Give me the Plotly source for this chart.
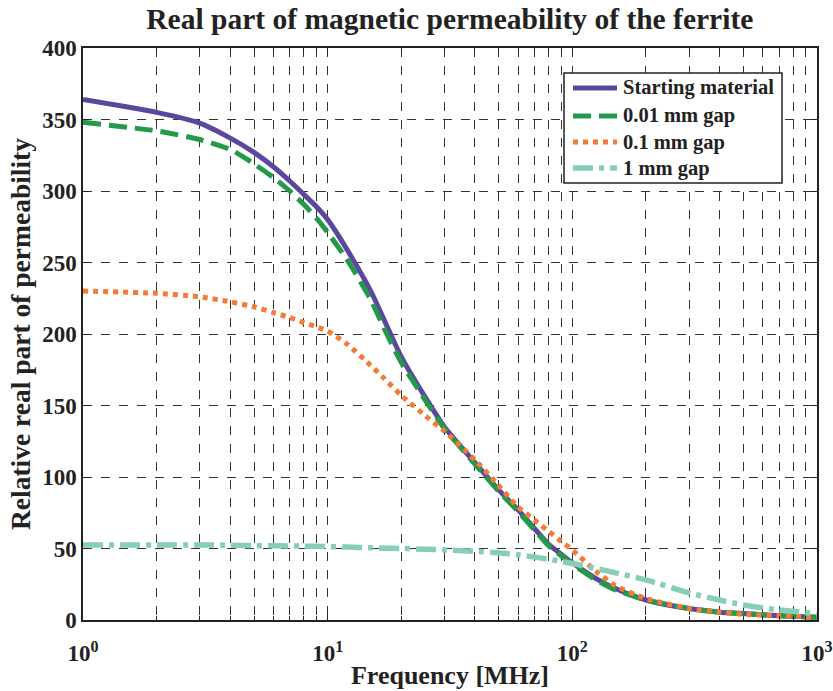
import plotly.graph_objects as go

freq = [1, 2, 3, 4, 5, 6, 7, 8, 9, 10, 12, 15, 17, 20, 25, 30, 40, 50, 60, 70, 80, 90, 100,
        125, 150, 200, 300, 400, 500, 700, 1000]
starting = [364, 355, 347.5, 337, 327, 317, 307, 297.5, 289, 280, 259, 230, 210, 184, 156, 135, 110, 91, 77, 64, 53, 46, 40,
            29, 22, 14, 8, 5.5, 4.5, 3, 2]
gap_001 = [348, 342, 336, 329, 319, 309.5, 300, 290.5, 281, 271, 252, 224, 204, 180, 154, 134, 109, 90, 76, 63, 52, 45, 39,
           28, 21, 14, 8, 5.5, 4.5, 3, 2]
gap_01 = [230, 228.5, 226, 222.5, 219, 215, 211.5, 208, 205, 202, 193, 178, 169, 157, 143, 132, 112, 94, 79, 70, 62, 55, 49,
          34, 24, 15, 8, 5.5, 4, 3, 2]
gap_1 = [52.5, 52.5, 52.5, 52.3, 52, 52, 51.8, 51.6, 51.5, 51.3, 51, 50.5, 50.2, 50, 49.5, 49, 48, 47, 45.5, 44, 42.5, 41, 39.5,
         36, 33, 28, 19, 14, 10.5, 7, 4.5]

names = ["Starting material", "0.01 mm gap", "0.1 mm gap", "1 mm gap"]
colors = ["#5b47a0", "#23994a", "#f47a36", "#85d0b4"]
x_tickvals = [1, 10, 100, 1000]
x_ticktext = ["10<sup>0</sup>", "10<sup>1</sup>", "10<sup>2</sup>", "10<sup>3</sup>"]
y_tickvals = [0, 50, 100, 150, 200, 250, 300, 350, 400]

font = "Liberation Serif"
W, H = 833, 691
ML, MR, MT, MB = 83, 16, 48, 71
PW, PH = W - ML - MR, H - MT - MB


def px_x(px):
    return (px - ML) / PW


def px_y(py):
    return (H - MB - py) / PH


fig = go.Figure()
series = [starting, gap_001, gap_01, gap_1]
dashes = ["solid", "18px,8px", "5px,5px", "20px,6px,5px,6px"]
widths = [5, 5, 5, 5.5]
for name, ys, c, d, w in zip(names, series, colors, dashes, widths):
    fig.add_trace(go.Scatter(x=freq, y=ys, name=name, mode="lines", showlegend=False,
                             line=dict(color=c, width=w, dash=d, shape="spline", smoothing=0.6)))

axis_common = dict(showline=True, linecolor="#222", linewidth=1.5, mirror="ticks",
                   ticks="inside", ticklen=6, tickcolor="#222",
                   showgrid=True, gridcolor="#333", griddash="dash", gridwidth=1,
                   zeroline=False, automargin=False,
                   tickfont=dict(family=font, size=23, color="#222"))

fig.update_xaxes(type="log", range=[0, 3], tickvals=x_tickvals,
                 ticktext=[f"<b>{t}</b>" for t in x_ticktext],
                 ticklabelstandoff=12,
                 minor=dict(showgrid=True, dtick="D1", ticks="inside", ticklen=4, tickcolor="#222",
                            gridcolor="#333", griddash="dash", gridwidth=1),
                 title=dict(text="<b>Frequency [MHz]</b>", font=dict(family=font, size=26, color="#222"),
                            standoff=0),
                 **axis_common)
fig.update_yaxes(range=[0, 400], tickvals=y_tickvals,
                 ticktext=[f"<b>{v}</b>" for v in y_tickvals],
                 title=dict(text="<b>Relative real part of permeability</b>",
                            font=dict(family=font, size=27.5, color="#222"), standoff=4),
                 **axis_common)

# legend box drawn manually
fig.add_shape(type="rect", xref="paper", yref="paper",
              x0=px_x(564), x1=px_x(782), y0=px_y(183), y1=px_y(73),
              line=dict(color="#222", width=1.5), fillcolor="white", layer="above")
rows = [88, 116, 142, 168]
for name, c, d, w, ry in zip(names, colors, dashes, widths, rows):
    fig.add_shape(type="line", xref="paper", yref="paper",
                  x0=px_x(573), x1=px_x(617), y0=px_y(ry), y1=px_y(ry),
                  line=dict(color=c, width=w, dash=d), layer="above")
    fig.add_annotation(xref="paper", yref="paper", x=px_x(621), y=px_y(ry),
                       xanchor="left", yanchor="middle", showarrow=False,
                       text=f"<b>{name}</b>",
                       font=dict(family=font, size=20.5, color="#222"))

fig.update_layout(
    width=W, height=H,
    margin=dict(l=ML, r=MR, t=MT, b=MB),
    plot_bgcolor="white", paper_bgcolor="white",
    title=dict(text="<b>Real part of magnetic permeability of the ferrite</b>",
               x=0.54, xanchor="center", y=1 - 19 / H, yanchor="middle",
               font=dict(family=font, size=29.5, color="#222")),
    showlegend=False,
)

fig.write_html("out.html")
